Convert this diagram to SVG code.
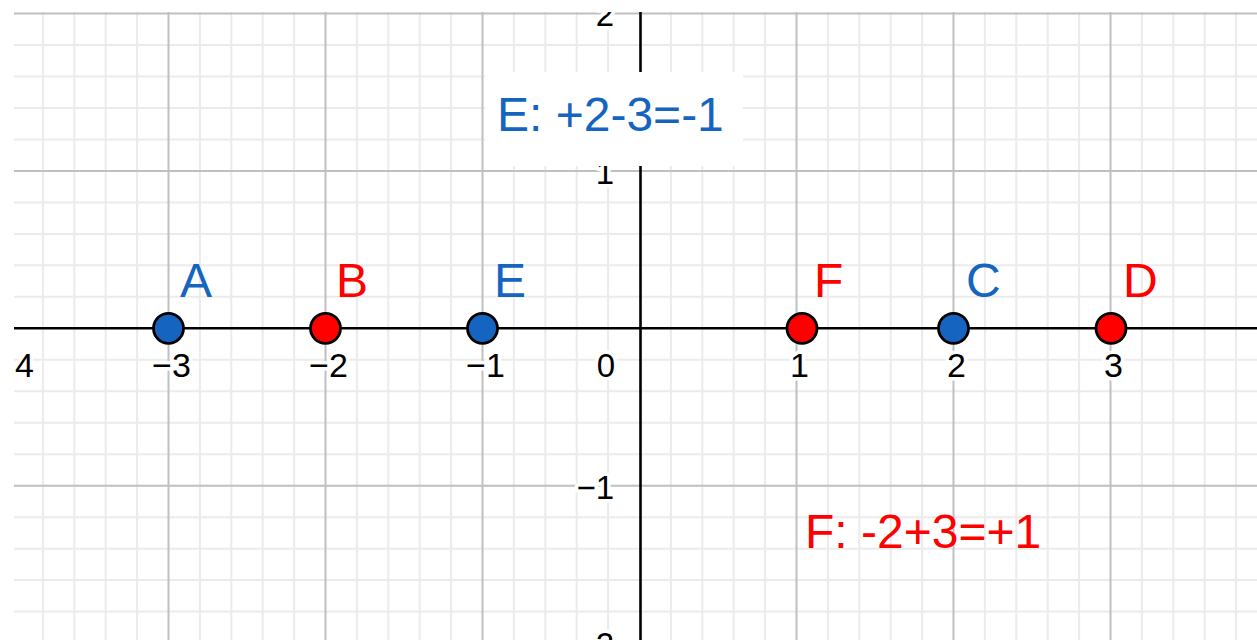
<svg xmlns="http://www.w3.org/2000/svg" width="1257" height="640" viewBox="0 0 1257 640">
  <style>
    .minor { stroke: #ebebeb; stroke-width: 2; fill: none; }
    .major { stroke: #c0c0c0; stroke-width: 2; fill: none; }
    .axis { stroke: #000; stroke-width: 2.6; fill: none; }
    .tick { font-family: "Liberation Sans", Arial, sans-serif; font-size: 34px; fill: #000; paint-order: stroke; stroke: #fff; stroke-width: 7; stroke-linejoin: round; }
    .ytick { text-anchor: end; font-size: 33px; }
    .xtick { text-anchor: middle; }
    .pt { stroke: #000; stroke-width: 2.8; }
    .blue { fill: #1565c0; }
    .red { fill: #ff0000; }
    .plabel { font-family: "Liberation Sans", Arial, sans-serif; font-size: 48px; }
  </style>
  <defs>
    <clipPath id="view">
      <rect x="14" y="12" width="1243" height="628"/>
    </clipPath>
  </defs>
  <rect width="1257" height="640" fill="#fff"/>
  <g clip-path="url(#view)">
    <g id="grid">
      <path class="minor" d="M42.9 0V640M74.3 0V640M105.7 0V640M137.1 0V640M199.9 0V640M231.3 0V640M262.7 0V640M294.1 0V640M356.9 0V640M388.3 0V640M419.7 0V640M451.1 0V640M513.9 0V640M545.3 0V640M576.7 0V640M608.1 0V640M670.9 0V640M702.3 0V640M733.7 0V640M765.1 0V640M827.9 0V640M859.3 0V640M890.7 0V640M922.1 0V640M984.9 0V640M1016.3 0V640M1047.7 0V640M1079.1 0V640M1141.9 0V640M1173.3 0V640M1204.7 0V640M1236.1 0V640"/>
      <path class="minor" d="M0 45H1257M0 76.5H1257M0 108H1257M0 139.4H1257M0 202.4H1257M0 233.9H1257M0 265.3H1257M0 296.8H1257M0 359.8H1257M0 391.3H1257M0 422.7H1257M0 454.2H1257M0 517.2H1257M0 548.7H1257M0 580.1H1257M0 611.6H1257"/>
      <path class="major" d="M168.5 0V640M325.5 0V640M482.5 0V640M796.5 0V640M953.5 0V640M1110.5 0V640M0 13.5H1257M0 170.9H1257M0 485.7H1257M0 643.1H1257"/>
    </g>
    <g id="axes">
      <path class="axis" d="M14 328.3H1257M640.5 12V640"/>
    </g>
    <g id="tick-labels">
      <text class="tick xtick" x="14.5" y="377">−4</text>
      <text class="tick xtick" x="171.5" y="377">−3</text>
      <text class="tick xtick" x="328.5" y="377">−2</text>
      <text class="tick xtick" x="485.5" y="377">−1</text>
      <text class="tick ytick" x="615" y="377">0</text>
      <text class="tick xtick" x="799.5" y="377">1</text>
      <text class="tick xtick" x="956.5" y="377">2</text>
      <text class="tick xtick" x="1113.5" y="377">3</text>
      <text class="tick ytick" x="614" y="26">2</text>
      <text class="tick ytick" x="614" y="184">1</text>
      <text class="tick ytick" x="614" y="499">−1</text>
      <text class="tick ytick" x="614" y="656">−2</text>
    </g>
    <g id="connectors"></g>
    <g id="node-A">
      <circle class="pt blue" cx="168.5" cy="328.3" r="15"/>
      <text class="plabel blue" x="180" y="297">A</text>
    </g>
    <g id="node-B">
      <circle class="pt red" cx="325.5" cy="328.3" r="15"/>
      <text class="plabel red" x="336" y="297">B</text>
    </g>
    <g id="node-E">
      <circle class="pt blue" cx="482.5" cy="328.3" r="15"/>
      <text class="plabel blue" x="494" y="297">E</text>
    </g>
    <g id="node-F">
      <circle class="pt red" cx="802" cy="328.3" r="15"/>
      <text class="plabel red" x="814" y="297">F</text>
    </g>
    <g id="node-C">
      <circle class="pt blue" cx="953.5" cy="328.3" r="15"/>
      <text class="plabel blue" x="966" y="297">C</text>
    </g>
    <g id="node-D">
      <circle class="pt red" cx="1111" cy="328.3" r="15"/>
      <text class="plabel red" x="1123" y="297">D</text>
    </g>
    <g id="label-E-eq">
      <rect x="485" y="72" width="258" height="94" fill="#fff"/>
      <text class="plabel blue" x="497" y="131" font-size="48.5">E: +2-3=-1</text>
    </g>
    <g id="label-F-eq">
      <text class="plabel red" x="805" y="548" font-size="49.5">F: -2+3=+1</text>
    </g>
  </g>
</svg>
